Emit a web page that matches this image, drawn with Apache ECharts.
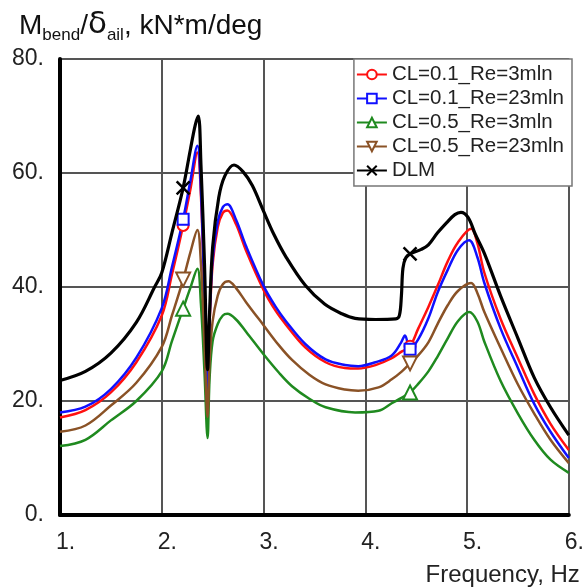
<!DOCTYPE html>
<html>
<head>
<meta charset="utf-8">
<script src="https://cdn.jsdelivr.net/npm/echarts@6/dist/echarts.min.js"></script>
<style>html,body{margin:0;padding:0;background:#fff}#c{width:587px;height:587px}</style>
</head>
<body>
<div id="c"></div>
<script>
// ---- data ----
const seriesNames = ['CL=0.1_Re=3mln', 'CL=0.1_Re=23mln', 'CL=0.5_Re=3mln', 'CL=0.5_Re=23mln', 'DLM'];
const markerFreqs = [2.21, 4.44];
const xTicks = [1, 2, 3, 4, 5, 6];
const yTicks = [0, 20, 40, 60, 80];

const cl01re3 = [[1.0,17.1],[1.25,18.4],[1.5,21.5],[1.75,26.8],[2.0,35.0],[2.1,42.2],[2.21,50.8],[2.28,57.0],[2.35,63.6],[2.385,56.0],[2.42,37.0],[2.45,21.0],[2.47,33.5],[2.5,44.0],[2.55,50.5],[2.6,53.0],[2.645,53.4],[2.73,51.0],[2.83,46.3],[3.0,39.5],[3.12,35.8],[3.22,33.4],[3.41,29.4],[3.61,26.8],[3.8,25.8],[3.93,25.7],[4.1,26.3],[4.26,27.5],[4.36,28.7],[4.44,29.6],[4.52,32.7],[4.62,36.5],[4.71,40.2],[4.81,44.5],[4.91,47.8],[5.04,50.2],[5.1,47.8],[5.17,42.5],[5.33,34.4],[5.5,27.5],[5.66,21.2],[5.82,16.0],[6.0,11.4]];
const cl01re23 = [[1.0,18.0],[1.25,19.0],[1.5,22.1],[1.75,27.6],[2.0,36.3],[2.1,43.5],[2.21,51.9],[2.28,58.5],[2.35,64.8],[2.385,57.0],[2.42,38.0],[2.45,22.0],[2.47,34.5],[2.5,45.0],[2.55,51.5],[2.6,54.0],[2.645,54.5],[2.73,51.8],[2.83,47.1],[3.0,40.2],[3.12,36.5],[3.22,34.0],[3.41,30.0],[3.61,27.3],[3.8,26.3],[3.93,26.1],[4.1,26.8],[4.26,28.0],[4.35,30.2],[4.39,31.5],[4.44,29.1],[4.52,30.8],[4.62,34.5],[4.71,39.0],[4.81,43.0],[4.91,46.5],[5.02,48.2],[5.1,45.3],[5.17,40.7],[5.33,32.7],[5.5,25.8],[5.66,19.5],[5.82,14.6],[6.0,10.0]];
const cl05re3 = [[1.0,12.1],[1.25,13.2],[1.5,16.6],[1.75,20.0],[2.0,25.2],[2.1,30.5],[2.21,36.2],[2.28,39.8],[2.35,43.2],[2.385,37.0],[2.42,25.0],[2.45,13.5],[2.47,24.0],[2.5,30.5],[2.55,33.5],[2.6,35.0],[2.645,35.3],[2.73,34.3],[2.83,32.1],[3.0,28.2],[3.15,25.0],[3.28,22.6],[3.45,20.4],[3.61,18.9],[3.9,18.0],[4.13,18.3],[4.26,19.6],[4.36,20.6],[4.44,21.5],[4.52,23.0],[4.62,25.2],[4.71,27.8],[4.81,31.0],[4.91,34.0],[5.02,35.6],[5.1,34.0],[5.17,30.4],[5.33,23.5],[5.5,17.8],[5.66,13.2],[5.82,9.7],[6.0,7.4]];
const cl05re23 = [[1.0,14.6],[1.25,15.7],[1.5,19.2],[1.75,23.2],[2.0,29.5],[2.1,35.0],[2.21,41.3],[2.28,46.0],[2.35,50.0],[2.385,44.0],[2.42,30.0],[2.45,17.2],[2.47,27.0],[2.5,34.0],[2.55,38.5],[2.6,40.5],[2.655,41.0],[2.73,39.8],[2.83,37.3],[3.0,33.3],[3.15,29.8],[3.28,27.2],[3.45,24.6],[3.61,22.9],[3.8,22.0],[3.93,21.8],[4.13,22.4],[4.26,23.8],[4.36,25.2],[4.44,26.6],[4.52,28.0],[4.62,30.3],[4.71,33.5],[4.81,36.8],[4.91,39.3],[5.04,40.7],[5.1,39.0],[5.17,35.6],[5.33,29.3],[5.5,22.9],[5.66,17.8],[5.82,13.2],[6.0,9.1]];
const dlm = [[1.0,23.6],[1.25,25.2],[1.5,28.4],[1.75,33.8],[1.93,40.0],[2.0,42.5],[2.1,49.5],[2.21,57.4],[2.28,64.0],[2.33,68.5],[2.36,70.0],[2.385,61.5],[2.42,44.0],[2.45,25.5],[2.47,35.5],[2.5,47.0],[2.56,55.7],[2.62,59.5],[2.71,61.4],[2.8,60.2],[2.89,57.8],[3.0,53.3],[3.1,49.3],[3.22,45.3],[3.41,40.3],[3.6,37.0],[3.77,35.3],[3.9,34.5],[4.1,34.3],[4.3,34.4],[4.335,35.0],[4.355,38.5],[4.37,43.3],[4.4,45.2],[4.44,45.8],[4.55,46.6],[4.62,47.4],[4.71,49.5],[4.8,51.3],[4.88,52.7],[4.94,53.1],[5.01,52.2],[5.08,49.3],[5.17,45.9],[5.33,38.4],[5.5,31.0],[5.66,24.1],[5.82,18.9],[6.0,14.0]];

// ---- styling ----
const seriesData = [cl01re3, cl01re23, cl05re3, cl05re23, dlm];
const colors = ['#ff1010', '#1010ff', '#1f8a1f', '#8a5226', '#000000'];
const symbols = ['emptyCircle', 'emptyRect', 'emptyTriangle', 'emptyTriangle', 'path://M0,0L10,10M10,0L0,10'];
const rotates = [0, 0, 0, 180, 0];
const sizes = [11, 11, 14, 14, 13];
const widths = [2.5, 2.5, 2.5, 2.5, 3.2];
const FONT = 'Liberation Sans, Arial, sans-serif';

function withMarkers(arr) {
  return arr.map(p => markerFreqs.some(m => Math.abs(m - p[0]) < 1e-9)
    ? { value: p } : { value: p, symbol: 'none' });
}

const series = seriesNames.map((name, i) => ({
  name: name,
  type: 'line',
  data: withMarkers(seriesData[i]),
  smooth: 0.35,
  showSymbol: true,
  showAllSymbol: true,
  symbol: symbols[i],
  symbolRotate: rotates[i],
  symbolSize: sizes[i],
  lineStyle: { color: colors[i], width: widths[i] },
  itemStyle: { color: colors[i], borderColor: colors[i], borderWidth: i === 4 ? 2.5 : 1.8 },
  emphasis: { disabled: true },
  z: i === 4 ? 3 : 2
}));

const chart = echarts.init(document.getElementById('c'), null, { renderer: 'canvas' });
chart.setOption({
  animation: false,
  backgroundColor: '#ffffff',
  textStyle: { fontFamily: FONT },
  title: {
    left: 14, top: 3,
    text: '{m|M}{s|bend}{m|/}{d|δ}{s|ail}{m|, kN*m/deg}',
    textStyle: {
      fontWeight: 'normal',
      rich: {
        m: { fontSize: 28, fontWeight: 'normal', fontFamily: FONT, color: '#111', lineHeight: 34, verticalAlign: 'bottom', padding: [0,0,2,0] },
        s: { fontSize: 17, fontWeight: 'normal', fontFamily: FONT, color: '#111', lineHeight: 34, verticalAlign: 'bottom', padding: [0,0,-2,0] },
        d: { fontSize: 31, fontWeight: 'normal', fontFamily: 'DejaVu Sans, ' + FONT, color: '#111', lineHeight: 34, verticalAlign: 'bottom', padding: [0,0,2,0] }
      }
    }
  },
  legend: {
    right: 15, top: 59,
    orient: 'vertical',
    backgroundColor: '#ffffff',
    borderColor: '#777',
    borderWidth: 1.5,
    padding: [5, 8, 5, 2],
    itemGap: 3,
    itemWidth: 30,
    itemHeight: 12,
    textStyle: { fontSize: 20.5, fontFamily: FONT, color: '#222' },
    data: seriesNames
  },
  grid: {
    left: 60, right: 15, top: 59, bottom: 64,
    show: true, borderColor: '#777', borderWidth: 1.5
  },
  xAxis: {
    type: 'value', min: xTicks[0], max: xTicks[xTicks.length - 1], interval: 1,
    name: 'Frequency, Hz',
    nameLocation: 'end',
    nameGap: 11,
    nameTextStyle: { fontSize: 24, fontFamily: FONT, color: '#222', align: 'right', verticalAlign: 'top', padding: [48, 0, 0, 0] },
    axisLine: { show: true, onZero: false, lineStyle: { color: '#000', width: 4 } },
    axisTick: { show: false },
    axisLabel: { fontSize: 23, fontFamily: FONT, color: '#222', margin: 16, align: 'left', padding: [0, 0, 0, -4], formatter: v => v + '.' },
    splitLine: { show: true, lineStyle: { color: '#555', width: 2 } }
  },
  yAxis: {
    type: 'value', min: yTicks[0], max: yTicks[yTicks.length - 1], interval: 20,
    axisLine: { show: true, onZero: false, lineStyle: { color: '#000', width: 4 } },
    axisTick: { show: false },
    axisLabel: { fontSize: 23, fontFamily: FONT, color: '#222', margin: 16, formatter: v => v + '.' },
    splitLine: { show: true, lineStyle: { color: '#555', width: 2 } }
  },
  series: series
});
</script>
</body>
</html>
